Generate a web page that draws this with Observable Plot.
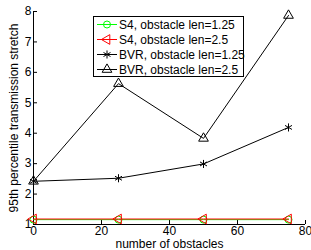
<!DOCTYPE html>
<html><head><meta charset="utf-8">
<script src="https://cdn.jsdelivr.net/npm/d3@7"></script>
<script src="https://cdn.jsdelivr.net/npm/@observablehq/plot@0.6"></script>
<style>
body{margin:0;background:#fff;font-family:"Liberation Sans",Arial,sans-serif;}
#wrap{position:relative;width:311px;height:250px;}
#legend{position:absolute;left:93px;top:16px;width:149px;height:59px;border:1px solid #000;background:#fff;font-size:12px;}
.row{position:absolute;left:2px;height:15px;display:flex;align-items:center;white-space:nowrap;}
.row svg{margin-right:1px;}
</style></head>
<body><div id="wrap"><div id="chart"></div><div id="legend"></div></div>
<script>
const obstacles = [0, 25, 50, 75];
const s4_125 = [1.16, 1.16, 1.16, 1.16];
const s4_25 = [1.18, 1.18, 1.18, 1.18];
const bvr_125 = [2.42, 2.52, 2.99, 4.19];
const bvr_25 = [2.42, 5.63, 3.83, 7.87];
const seriesNames = ["S4, obstacle len=1.25", "S4, obstacle len=2.5", "BVR, obstacle len=1.25", "BVR, obstacle len=2.5"];
const xTicks = [0, 20, 40, 60, 80];
const yTicks = [1, 2, 3, 4, 5, 6, 7, 8];
const xLabel = "number of obstacles";
const yLabel = "95th percentile transmission stretch";

const triLeft = {
  draw(context, size) {
    const y = -Math.sqrt(size / (Math.sqrt(3) * 3));
    context.moveTo(y * 2, 0);
    context.lineTo(-y, -Math.sqrt(3) * y);
    context.lineTo(-y, Math.sqrt(3) * y);
    context.closePath();
  }
};

const styles = [
  {color: "#00ff00", symbol: "circle", r: 3.5},
  {color: "#ff0000", symbol: triLeft, r: 3.6},
  {color: "#000000", symbol: "asterisk", r: 3.8},
  {color: "#000000", symbol: "triangle", r: 3.6}
];
const values = [s4_125, s4_25, bvr_125, bvr_25];
const data = values.flatMap((vals, i) => vals.map((v, j) => ({series: seriesNames[i], x: obstacles[j], y: v, idx: i})));

const marks = [
  Plot.ruleY([1], {stroke: "#000"}),
  Plot.ruleX([0], {stroke: "#000"}),
  Plot.axisX({ticks: xTicks, tickSize: -4, tickPadding: 6, fontSize: 12, label: null}),
  Plot.axisY({ticks: yTicks, tickFormat: "d", tickSize: -4, tickPadding: 6, fontSize: 12, label: null}),
  Plot.text([xLabel], {text: d => d, frameAnchor: "bottom", textAnchor: "middle", dy: 20, lineAnchor: "middle", fontSize: 12, fill: "#000"}),
  Plot.text([yLabel], {text: d => d, frameAnchor: "left", textAnchor: "middle", dx: -19, rotate: -90, lineAnchor: "middle", fontSize: 12, fill: "#000"})
];
values.forEach((vals, i) => {
  const d = data.filter(e => e.idx === i);
  marks.push(Plot.line(d, {x: "x", y: "y", stroke: styles[i].color, strokeWidth: 1}));
  marks.push(Plot.dot(d, {x: "x", y: "y", stroke: styles[i].color, symbol: () => styles[i].symbol, r: styles[i].r, fill: "none", strokeWidth: 1}));
});

const chart = Plot.plot({
  width: 311, height: 250,
  marginLeft: 33, marginRight: 6, marginTop: 11, marginBottom: 26,
  x: {domain: [0, 80]},
  y: {domain: [1, 8]},
  symbol: {type: "identity"},
  style: {fontFamily: "Liberation Sans, Arial, sans-serif", fontSize: "12px", color: "#000", background: "#fff"},
  marks
});
document.getElementById("chart").appendChild(chart);

const legend = document.getElementById("legend");
seriesNames.forEach((name, i) => {
  const row = document.createElement("div");
  row.className = "row";
  row.style.top = (0 + i * 15) + "px";
  const svg = d3.create("svg").attr("width", 22).attr("height", 15);
  svg.append("line").attr("x1", 1).attr("x2", 21).attr("y1", 7.5).attr("y2", 7.5).attr("stroke", styles[i].color);
  const symType = styles[i].symbol === "circle" ? d3.symbolCircle : styles[i].symbol === "asterisk" ? d3.symbolAsterisk : styles[i].symbol === "triangle" ? d3.symbolTriangle : styles[i].symbol;
  svg.append("path").attr("d", d3.symbol(symType, Math.PI * styles[i].r * styles[i].r)()).attr("transform", "translate(11,7.5)").attr("fill", "none").attr("stroke", styles[i].color);
  row.appendChild(svg.node());
  const span = document.createElement("span");
  span.textContent = name;
  row.appendChild(span);
  legend.appendChild(row);
});
</script></body></html>
